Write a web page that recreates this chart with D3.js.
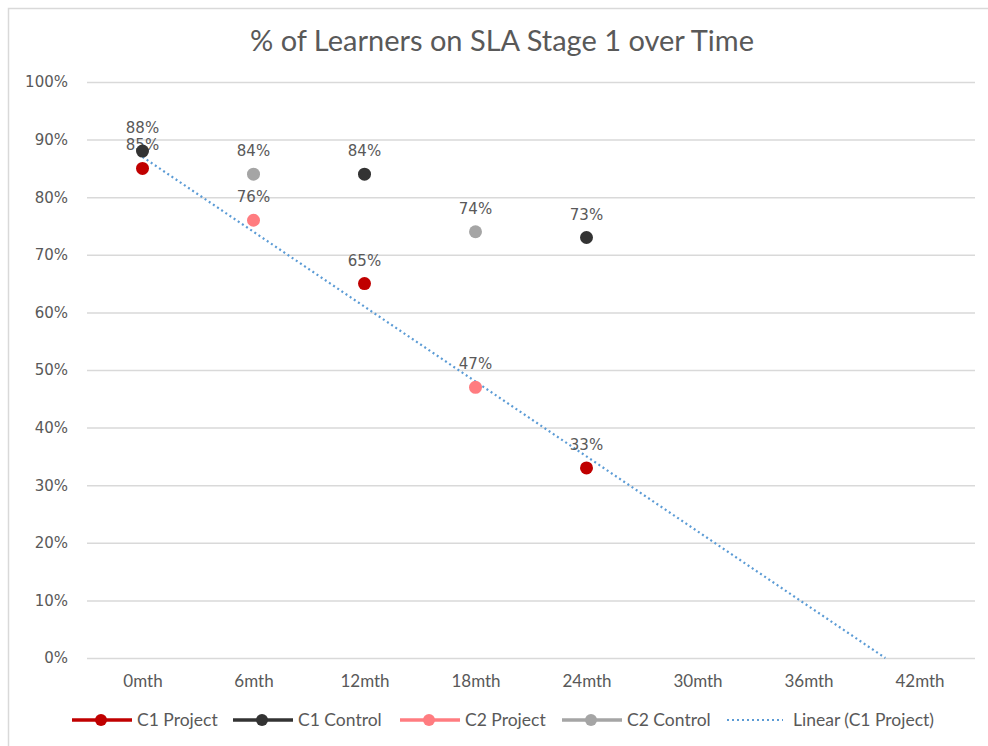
<!DOCTYPE html>
<html>
<head>
<meta charset="utf-8">
<script src="https://cdn.jsdelivr.net/npm/d3@7"></script>
<style>
  body { margin: 0; background: #fff; }
</style>
</head>
<body>
<div id="vis"></div>
<script>
// Frame
const FRAME_WIDTH = 988;
const FRAME_HEIGHT = 746;
const MARGINS = {left: 87, right: 13, top: 82, bottom: 88};

const VIS_WIDTH = FRAME_WIDTH - MARGINS.left - MARGINS.right;
const VIS_HEIGHT = FRAME_HEIGHT - MARGINS.top - MARGINS.bottom;

// Data
const categories = ["0mth", "6mth", "12mth", "18mth", "24mth", "30mth", "36mth", "42mth"];
const c1Project = [0.85, null, 0.65, null, 0.33, null, null, null];
const c1Control = [0.88, null, 0.84, null, 0.73, null, null, null];
const c2Project = [null, 0.76, null, 0.47, null, null, null, null];
const c2Control = [null, 0.84, null, 0.74, null, null, null, null];
const yTicks = [0, 0.1, 0.2, 0.3, 0.4, 0.5, 0.6, 0.7, 0.8, 0.9, 1.0];

const series = [
  {name: "C1 Project", values: c1Project, color: "#C00000"},
  {name: "C1 Control", values: c1Control, color: "#333333"},
  {name: "C2 Project", values: c2Project, color: "#FF7C80"},
  {name: "C2 Control", values: c2Control, color: "#A5A5A5"}
];

const TEXT_COLOR = "#595959";
const GRID_COLOR = "#D9D9D9";
const TREND_COLOR = "#5B9BD5";

const FRAME = d3.select("#vis")
                .append("svg")
                  .attr("width", FRAME_WIDTH)
                  .attr("height", FRAME_HEIGHT);

// chart border
FRAME.append("rect")
     .attr("x", 8.5)
     .attr("y", 8.5)
     .attr("width", FRAME_WIDTH + 10)
     .attr("height", FRAME_HEIGHT + 10)
     .attr("fill", "none")
     .attr("stroke", GRID_COLOR)
     .attr("stroke-width", 1.5);

// Scales
const X_SCALE = d3.scalePoint()
                  .domain(categories)
                  .range([0, VIS_WIDTH])
                  .padding(0.5);

const Y_SCALE = d3.scaleLinear()
                  .domain([0, 1])
                  .range([VIS_HEIGHT, 0]);

const G = FRAME.append("g")
               .attr("transform", "translate(" + MARGINS.left + "," + MARGINS.top + ")");

// Title
FRAME.append("text")
     .attr("x", 502)
     .attr("y", 51)
     .attr("text-anchor", "middle")
     .attr("font-family", "Lato, 'Open Sans', sans-serif")
     .attr("font-size", "29px")
     .attr("fill", TEXT_COLOR)
     .text("% of Learners on SLA Stage 1 over Time");

// y axis (gridlines + labels)
const yAxis = G.append("g")
               .call(d3.axisLeft(Y_SCALE)
                       .tickValues(yTicks)
                       .tickSize(-VIS_WIDTH)
                       .tickPadding(19)
                       .tickFormat(d3.format(".0%")));
yAxis.select(".domain").remove();
yAxis.selectAll(".tick line")
     .attr("stroke", GRID_COLOR)
     .attr("stroke-width", 1.5);
yAxis.selectAll(".tick text")
     .attr("fill", TEXT_COLOR)
     .attr("font-family", "'DejaVu Sans', Verdana, sans-serif")
     .attr("font-size", "15px");

// x axis labels
const xAxis = G.append("g")
               .attr("transform", "translate(0," + VIS_HEIGHT + ")")
               .call(d3.axisBottom(X_SCALE).tickSize(0).tickPadding(17));
xAxis.select(".domain").remove();
xAxis.selectAll(".tick text")
     .attr("fill", TEXT_COLOR)
     .attr("font-family", "Lato, 'Open Sans', sans-serif")
     .attr("font-size", "17px");

// Linear trendline for C1 Project (least squares on category index)
const pts = c1Project.map((v, i) => [i + 1, v]).filter(d => d[1] != null);
const mx = d3.mean(pts, d => d[0]);
const my = d3.mean(pts, d => d[1]);
const slope = d3.sum(pts, d => (d[0] - mx) * (d[1] - my)) / d3.sum(pts, d => (d[0] - mx) ** 2);
const intercept = my - slope * mx;
const xZero = -intercept / slope;           // where the trend reaches 0%
const step = X_SCALE.step();
const trendX = i => X_SCALE(categories[0]) + (i - 1) * step;
const trendEnd = Math.min(categories.length, xZero);

G.append("line")
 .attr("x1", trendX(1))
 .attr("y1", Y_SCALE(intercept + slope * 1))
 .attr("x2", trendX(trendEnd))
 .attr("y2", Y_SCALE(Math.max(0, intercept + slope * trendEnd)))
 .attr("stroke", TREND_COLOR)
 .attr("stroke-width", 2.2)
 .attr("stroke-dasharray", "2,3");

// Points and labels
series.forEach((s) => {
  const data = s.values.map((v, i) => ({cat: categories[i], v: v})).filter(d => d.v != null);

  G.selectAll(null)
   .data(data)
   .enter()
   .append("circle")
     .attr("cx", d => X_SCALE(d.cat))
     .attr("cy", d => Y_SCALE(d.v))
     .attr("r", 6.5)
     .attr("fill", s.color);

  G.selectAll(null)
   .data(data)
   .enter()
   .append("text")
     .attr("x", d => X_SCALE(d.cat))
     .attr("y", d => Y_SCALE(d.v) - 18)
     .attr("text-anchor", "middle")
     .attr("font-family", "'DejaVu Sans', Verdana, sans-serif")
     .attr("font-size", "15px")
     .attr("fill", TEXT_COLOR)
     .text(d => d3.format(".0%")(d.v));
});

// Legend
const legendItems = [
  {name: "C1 Project", color: "#C00000", x: 72, trend: false},
  {name: "C1 Control", color: "#333333", x: 233, trend: false},
  {name: "C2 Project", color: "#FF7C80", x: 400, trend: false},
  {name: "C2 Control", color: "#A5A5A5", x: 562, trend: false},
  {name: "Linear (C1 Project)", color: TREND_COLOR, x: 727, trend: true}
];
const LEGEND_Y = 720;

const legend = FRAME.append("g");
legendItems.forEach((item) => {
  const g = legend.append("g").attr("transform", "translate(" + item.x + "," + LEGEND_Y + ")");
  if (item.trend) {
    g.append("line")
     .attr("x1", 0).attr("x2", 56)
     .attr("stroke", item.color)
     .attr("stroke-width", 2.2)
     .attr("stroke-dasharray", "2,3");
  } else {
    g.append("line")
     .attr("x1", 0).attr("x2", 60)
     .attr("stroke", item.color)
     .attr("stroke-width", 3.5);
    g.append("circle")
     .attr("cx", 29)
     .attr("r", 6)
     .attr("fill", item.color);
  }
  g.append("text")
   .attr("x", item.trend ? 66 : 65)
   .attr("dy", "0.35em")
   .attr("font-family", "Lato, 'Open Sans', sans-serif")
   .attr("font-size", "17.5px")
   .attr("fill", TEXT_COLOR)
   .text(item.name);
});
</script>
</body>
</html>
